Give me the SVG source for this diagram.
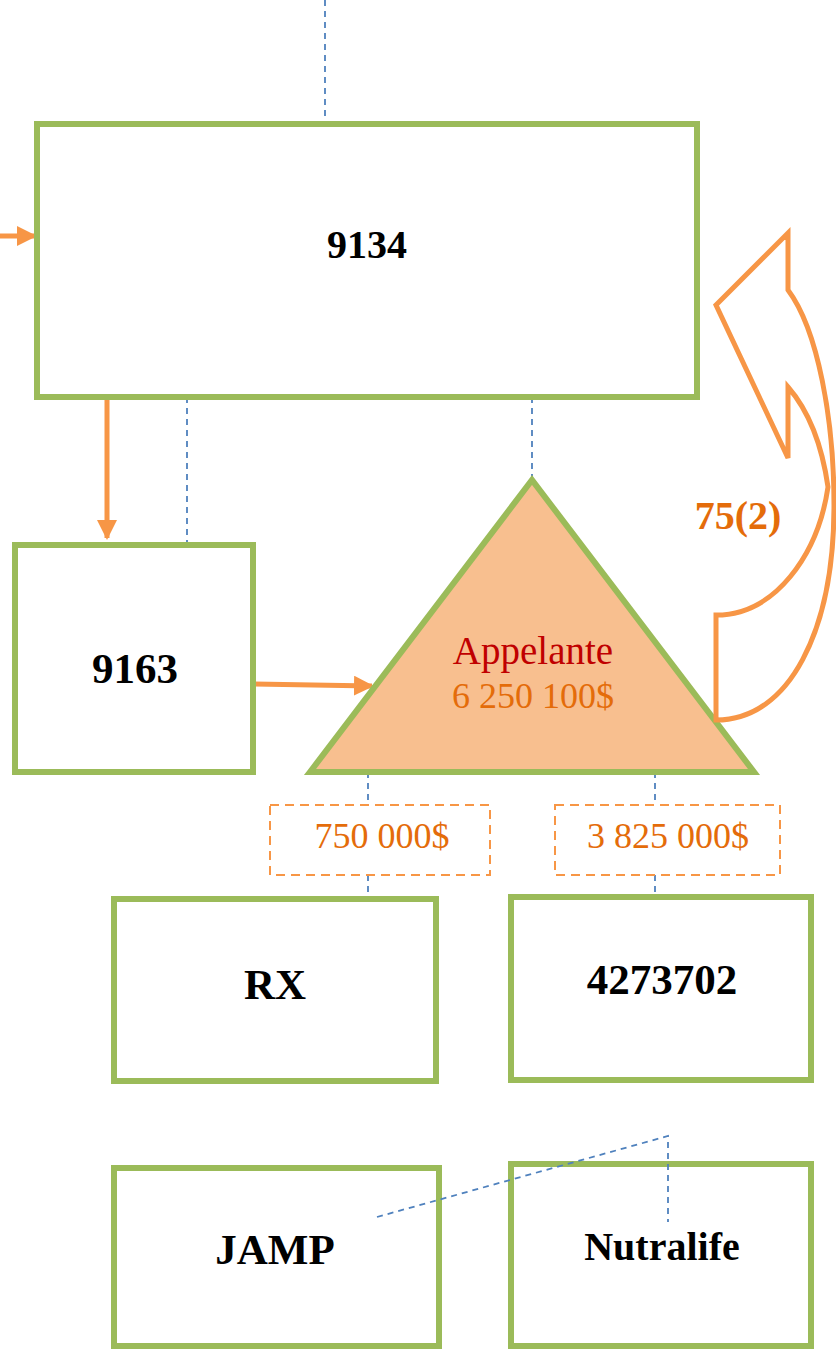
<svg xmlns="http://www.w3.org/2000/svg" width="836" height="1349" viewBox="0 0 836 1349">
<style>
.box{fill:#fff;stroke:#9BBB59;stroke-width:6}
.lbl{font-family:"Liberation Serif",serif;font-weight:bold;font-size:43px;fill:#000;text-anchor:middle}
.lbl.sm{font-size:40px}
.amt{font-family:"Liberation Serif",serif;font-size:36px;fill:#E46C0A;text-anchor:middle}
.dbox{fill:#fff;stroke:#F79646;stroke-width:2;stroke-dasharray:9,6}
.blue{fill:none;stroke:#4F81BD;stroke-width:1.8;stroke-dasharray:6,5}
.arr{fill:none;stroke:#F79646;stroke-width:5}
</style>
<defs>
<marker id="ah" viewBox="0 0 10 10" refX="9" refY="5" markerWidth="4" markerHeight="4" orient="auto" markerUnits="strokeWidth">
<path d="M0,0 L10,5 L0,10 z" fill="#F79646"/>
</marker>
</defs>
<g id="connectors">
<line class="blue" x1="325" y1="0" x2="325" y2="124"/>
<line class="blue" x1="187" y1="397" x2="187" y2="545"/>
<line class="blue" x1="532" y1="397" x2="532" y2="480"/>
<line class="blue" x1="368" y1="772" x2="368" y2="805"/>
<line class="blue" x1="368" y1="875" x2="368" y2="899"/>
<line class="blue" x1="655" y1="772" x2="655" y2="805"/>
<line class="blue" x1="655" y1="875" x2="655" y2="897"/>
<line class="arr" x1="0" y1="236" x2="35" y2="236" marker-end="url(#ah)"/>
<line class="arr" x1="107" y1="397" x2="107" y2="538" marker-end="url(#ah)"/>
<line class="arr" x1="254" y1="684" x2="372" y2="686" marker-end="url(#ah)"/>
</g>
<g id="n9134"><rect class="box" x="37" y="124" width="660" height="273"/><text class="lbl sm" x="367" y="258">9134</text></g>
<g id="n9163"><rect class="box" x="15" y="545" width="238" height="227"/><text class="lbl" x="135" y="683">9163</text></g>
<g id="appelante">
<polygon points="310,772 532,480 754,772" fill="#F8BF8F" stroke="#9BBB59" stroke-width="6"/>
<text x="533" y="664" font-family="Liberation Serif,serif" font-size="39" fill="#C00000" text-anchor="middle">Appelante</text>
<text class="amt" x="533" y="708">6 250 100$</text>
</g>
<g id="curved-arrow">
<path d="M716,305 L788,233 L788,290 C818,330 834,420 834,505 C834,630 790,720 716,720 L716,615 C775,615 818,555 828,487 C822,445 808,410 788,387 L788,458 Z" fill="#fff" stroke="#F79646" stroke-width="5" stroke-linejoin="miter"/>
<text x="738" y="529" font-family="Liberation Serif,serif" font-weight="bold" font-size="40" fill="#E46C0A" text-anchor="middle">75(2)</text>
</g>
<g id="amt750"><rect class="dbox" x="270" y="805" width="220" height="70"/><text class="amt" x="382" y="848">750 000$</text></g>
<g id="amt3825"><rect class="dbox" x="555" y="805" width="225" height="70"/><text class="amt" x="668" y="848">3 825 000$</text></g>
<g id="rx"><rect class="box" x="114" y="899" width="322" height="182"/><text class="lbl" x="275" y="999">RX</text></g>
<g id="n4273702"><rect class="box" x="511" y="897" width="300" height="183"/><text class="lbl" x="662" y="994">4273702</text></g>
<g id="jamp"><rect class="box" x="114" y="1168" width="325" height="178"/><text class="lbl" x="275" y="1264">JAMP</text></g>
<g id="nutralife"><rect class="box" x="511" y="1164" width="300" height="182"/><text class="lbl sm" x="662" y="1260">Nutralife</text></g>
<g id="cross-link"><polyline class="blue" points="377,1217 668,1136 668,1222"/></g>
</svg>
